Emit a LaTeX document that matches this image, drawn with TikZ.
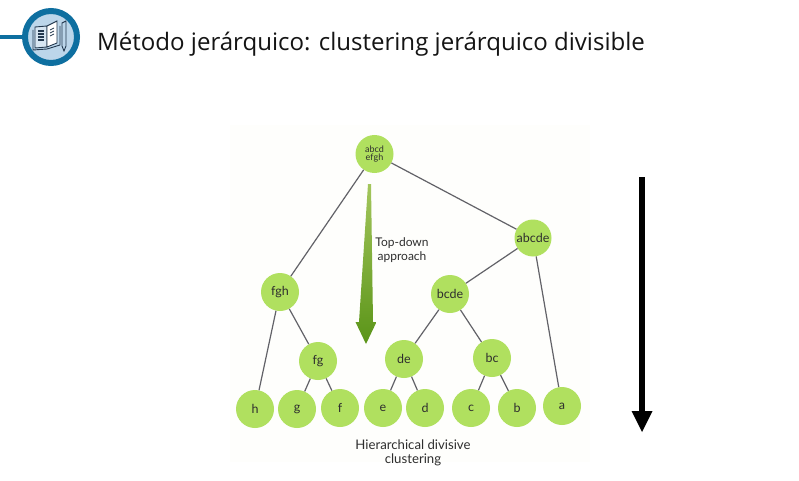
\documentclass[tikz,border=0pt]{standalone}
\usepackage{fontspec}
\setmainfont{Lato}
\newfontfamily\titlefont{Open Sans}
\definecolor{leaf}{HTML}{B0E05F}
\definecolor{edgeg}{HTML}{626268}
\definecolor{ringb}{HTML}{0E6FA0}
\definecolor{ringf}{HTML}{BCD6EA}
\definecolor{inkb}{HTML}{24394F}
\definecolor{panel}{HTML}{FEFEFC}
\definecolor{txt}{HTML}{2E2E2E}
\definecolor{arrowtop}{HTML}{A3C65C}
\definecolor{arrowbot}{HTML}{5A9418}
\tikzset{
  tree/.style={circle,fill=leaf,draw=none,minimum size=38pt,inner sep=0pt,align=center,font=\fontsize{12.5}{13}\selectfont,text=txt},
  smalltree/.style={tree,font=\fontsize{9}{9.5}\selectfont},
  link/.style={draw=edgeg,line width=1.2pt},
  captext/.style={font=\fontsize{12}{14}\selectfont,align=center,text=txt},
  inkline/.style={draw=inkb,line width=.9pt,fill=none},
}
\begin{document}
\begin{tikzpicture}[x=1pt,y=-1pt]
\useasboundingbox (0,0) rectangle (799,481);
\fill[white] (0,0) rectangle (799,481);
\fill[panel] (230,125) rectangle (590,462);
% header icon
\coordinate (barstart) at (0,37);
\node[circle,draw=ringb,line width=6pt,fill=ringf,minimum size=52pt,inner sep=0pt] (icon) at (51,37) {};
\draw[ringb,line width=4pt] (barstart) -- (icon.west);
\draw[inkline,fill=white!40!ringf] (35,27) -- (47,26) -- (47,47) -- (35,48) -- cycle;
\draw[inkline,fill=white] (47,26) -- (57,21) -- (57,43) -- (47,47) -- cycle;
\draw[inkline] (33,30) -- (33,50) -- (47,49) -- (60,45) -- (60,26);
\foreach \y in {31,34,37,40} \draw[inkb,line width=1.1pt] (38,\y) -- (44,\y);
\foreach \y in {29,32,35} \draw[inkb,line width=.8pt] (50,\y+1) -- (54,\y-1);
\draw[inkline] (62,23) -- (66,21) -- (66,46) -- (64,51) -- (62,46) -- cycle;
\node[anchor=base west,inner sep=0pt,font=\titlefont\fontsize{24.05}{28}\selectfont,text=black!92] (title) at (97,51) {Método jerárquico: clustering jerárquico divisible};
% tree
\node[smalltree] (abcdefgh) at (374.5,154) {abcd\\[-1pt]efgh};
\node[tree,minimum size=37pt] (abcde) at (533,238) {abcde};
\node[tree] (fgh) at (280,292) {fgh};
\node[tree] (bcde) at (450,294) {bcde};
\node[tree] (fg) at (318,361) {fg};
\node[tree] (de) at (404,359) {de};
\node[tree] (bc) at (492,358) {bc};
\node[tree] (h) at (255,409) {h};
\node[tree] (g) at (297,409) {g};
\node[tree] (f) at (340,408) {f};
\node[tree] (e) at (383,408) {e};
\node[tree] (d) at (425,408) {d};
\node[tree] (c) at (471,408) {c};
\node[tree] (b) at (517,408) {b};
\node[tree] (a) at (562,406) {a};
\foreach \p/\q in {abcdefgh/fgh,abcdefgh/abcde,abcde/bcde,abcde/a,fgh/h,fgh/fg,fg/g,fg/f,bcde/de,bcde/bc,de/e,de/d,bc/c,bc/b}
  \draw[link] (\p) -- (\q);
% green arrow
\shade[top color=arrowtop,bottom color=arrowbot] (368,184) -- (371,184) -- (373,322) -- (376.5,322) -- (366,344) -- (355.5,322) -- (359,322) -- cycle;
\node[captext] (topdown) at (402,250) {Top-down\\approach};
\node[captext,font=\fontsize{13.2}{14}\selectfont] (hier) at (413,453) {Hierarchical divisive\\clustering};
% black arrow
\coordinate (bs) at (642,177);
\coordinate (be) at (642,432);
\draw[black,line width=6.5pt] (bs) -- (642,412);
\fill[black] (631.5,411) -- (652.5,411) -- (be) -- cycle;
\end{tikzpicture}
\end{document}
